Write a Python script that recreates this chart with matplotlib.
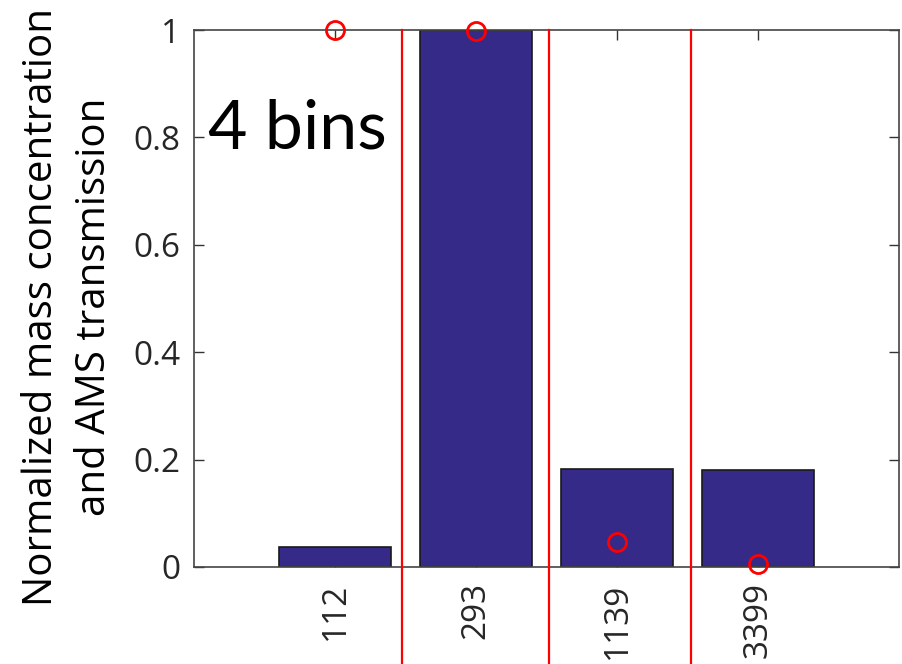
import matplotlib.pyplot as plt

# bins (labels) and values
bin_labels = ["112", "293", "1139", "3399"]
mass_conc = [0.037, 1.0, 0.183, 0.181]
ams_trans = [1.0, 0.998, 0.047, 0.005]
bin_edges = [1.475, 2.52, 3.525]
yticks = [0, 0.2, 0.4, 0.6, 0.8, 1.0]
ytick_labels = ["0", "0.2", "0.4", "0.6", "0.8", "1"]

plt.rcParams["font.family"] = ["Open Sans", "DejaVu Sans"]

fig = plt.figure(figsize=(9.02, 6.64), dpi=100)
ax = fig.add_axes([0.2151, 0.1461, 0.7816, 0.8087])

x = list(range(1, len(bin_labels) + 1))
ax.bar(x, mass_conc, width=0.8, color="#352A87", edgecolor="#1a1a1a", linewidth=1.2, zorder=2)
ax.plot(x, ams_trans, "o", mfc="none", mec="#ff0000", ms=13, mew=2, clip_on=False, zorder=4)

for e in bin_edges:
    ax.plot([e, e], [1.0, -0.3], color="#ff0000", lw=1.6, clip_on=False, zorder=3)

ax.set_xlim(0, 5)
ax.set_ylim(0, 1)
ax.set_xticks(x)
ax.set_xticklabels(bin_labels, rotation=90)
ax.set_yticks(yticks)
ax.set_yticklabels(ytick_labels)
ax.tick_params(direction="in", length=7, width=1, color="#333333", labelcolor="#262626",
               labelsize=24, top=True, right=True)
ax.tick_params(axis="x", pad=11)
ax.tick_params(axis="y", pad=10)
for s in ax.spines.values():
    s.set_color("#444444")
    s.set_linewidth(1.2)

ax.text(0.1, 0.78, "4 bins", fontsize=49, family=["Lato", "DejaVu Sans"], color="black",
        ha="left", va="baseline")

fig.text(68.5 / 902, 1 - 307 / 664, "Normalized mass concentration\nand AMS transmission",
         fontsize=29, rotation=90, ha="center", va="center", multialignment="center",
         linespacing=1.4)

fig.savefig("out.png", dpi=100)
